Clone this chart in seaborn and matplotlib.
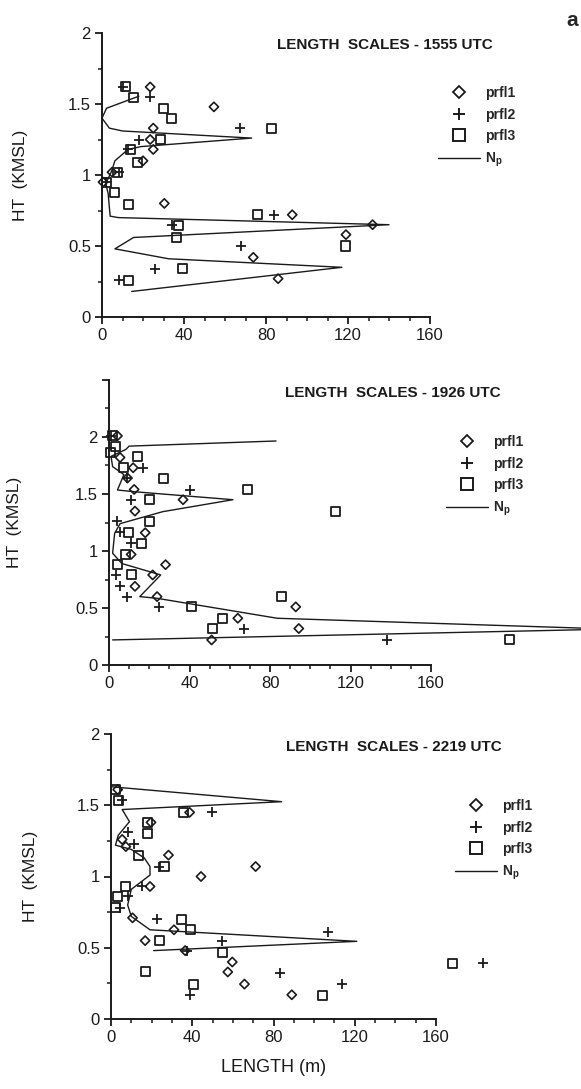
import matplotlib
matplotlib.use("Agg")
import matplotlib.pyplot as plt
import seaborn as sns
from matplotlib.lines import Line2D
from matplotlib.ticker import MultipleLocator

# ---------------- data ----------------
# Panel 1555 UTC
p1555_prfl1_len = [23.5, 54.6, 25, 23.5, 25, 20, 4.9, 0.5, 30.4, 92.8, 132, 119, 73.8, 85.9]
p1555_prfl1_ht = [1.62, 1.48, 1.33, 1.25, 1.18, 1.10, 1.02, 0.95, 0.80, 0.72, 0.65, 0.58, 0.42, 0.27]
p1555_prfl2_len = [10, 23.5, 67.5, 18, 12.7, 8.5, 1.8, 84, 34, 67.8, 25.9, 8.1]
p1555_prfl2_ht = [1.62, 1.55, 1.33, 1.25, 1.18, 1.02, 0.95, 0.72, 0.645, 0.50, 0.34, 0.26]
p1555_prfl3_len = [11.4, 15.4, 29.8, 33.8, 82.6, 28.4, 14, 17.5, 7.4, 2.2, 6.3, 12.8, 76, 37.4, 36.2, 119, 39.2, 12.7]
p1555_prfl3_ht = [1.62, 1.545, 1.47, 1.40, 1.33, 1.25, 1.18, 1.09, 1.02, 0.95, 0.875, 0.79, 0.72, 0.645, 0.56, 0.50, 0.34, 0.26]
p1555_np_len = [18, 2.2, 0, 3.6, 10, 73, 19, 12.7, 6.3, 4.5, 1.8, 3, 3.6, 4, 8, 140, 15.4, 6.3, 32.5, 117, 14.5]
p1555_np_ht = [1.555, 1.47, 1.40, 1.33, 1.31, 1.26, 1.20, 1.18, 1.10, 1.02, 0.94, 0.87, 0.77, 0.71, 0.70, 0.65, 0.56, 0.48, 0.41, 0.35, 0.18]

# Panel 1926 UTC
p1926_prfl1_len = [4.2, 5.5, 12, 9.2, 12.5, 36.8, 12.9, 18, 11, 28.1, 21.7, 12.9, 23.9, 92.8, 64, 94.3, 51]
p1926_prfl1_ht = [2.01, 1.82, 1.73, 1.64, 1.54, 1.45, 1.35, 1.16, 0.97, 0.88, 0.79, 0.69, 0.60, 0.51, 0.41, 0.32, 0.22]
p1926_prfl2_len = [1, 17, 9, 40, 10.7, 4.2, 5.5, 11, 3.7, 5.5, 8.8, 24.8, 67, 138]
p1926_prfl2_ht = [2.01, 1.73, 1.64, 1.535, 1.45, 1.26, 1.17, 1.07, 0.79, 0.69, 0.60, 0.51, 0.32, 0.22]
p1926_prfl3_len = [1.8, 3.1, 0.5, 14.2, 7, 27.2, 69, 20.2, 112.7, 19.9, 9.7, 16, 8.3, 4.2, 11.4, 85.8, 41, 56.6, 51.5, 199]
p1926_prfl3_ht = [2.01, 1.92, 1.86, 1.83, 1.73, 1.64, 1.54, 1.45, 1.345, 1.26, 1.16, 1.07, 0.97, 0.885, 0.79, 0.60, 0.51, 0.41, 0.32, 0.22]
p1926_np_len = [83, 10, 8.3, 1, 1.8, 7.4, 4.2, 12.5, 61.6, 26.7, 5.5, 2.8, 1.8, 6.4, 25.7, 15.3, 23.9, 83.6, 250, 1.8]
p1926_np_ht = [1.965, 1.92, 1.89, 1.83, 1.74, 1.67, 1.535, 1.52, 1.45, 1.345, 1.24, 1.155, 0.98, 0.89, 0.79, 0.60, 0.585, 0.41, 0.315, 0.22]

# Panel 2219 UTC
p2219_prfl1_len = [3.3, 38.7, 19.7, 5.5, 7.3, 28.3, 71.2, 44.3, 19.2, 10.6, 31, 16.8, 36.5, 59.7, 57.5, 65.7, 89]
p2219_prfl1_ht = [1.61, 1.45, 1.38, 1.26, 1.21, 1.15, 1.07, 1.00, 0.93, 0.71, 0.626, 0.55, 0.48, 0.40, 0.33, 0.245, 0.17]
p2219_prfl2_len = [5.5, 49.6, 8.2, 11.3, 23.7, 15.5, 8.2, 4.6, 22.8, 107, 54.4, 37.4, 183, 83, 113.5, 38.7]
p2219_prfl2_ht = [1.54, 1.45, 1.31, 1.23, 1.07, 0.93, 0.86, 0.78, 0.70, 0.61, 0.55, 0.48, 0.39, 0.32, 0.245, 0.17]
p2219_prfl3_len = [2.2, 3.6, 35.6, 17.9, 18.2, 13.7, 26.5, 7.3, 3.3, 2.2, 34.7, 39.2, 24.1, 54.7, 168, 16.8, 40.7, 104]
p2219_prfl3_ht = [1.61, 1.53, 1.45, 1.38, 1.30, 1.15, 1.07, 0.93, 0.86, 0.78, 0.70, 0.626, 0.55, 0.47, 0.39, 0.33, 0.245, 0.165]
p2219_np_len = [0, 84, 5.5, 9.1, 3.6, 2.2, 10, 16.4, 19.2, 19.2, 10, 8.2, 10, 19.2, 121, 21]
p2219_np_ht = [1.63, 1.525, 1.47, 1.385, 1.29, 1.22, 1.19, 1.13, 1.07, 1.01, 0.91, 0.80, 0.72, 0.626, 0.545, 0.48]

titles = ["LENGTH  SCALES - 1555 UTC", "LENGTH  SCALES - 1926 UTC", "LENGTH  SCALES - 2219 UTC"]
series_labels = ["prfl1", "prfl2", "prfl3", "N$_\\mathregular{p}$"]
x_ticks = [0, 40, 80, 120, 160]
x_ticklabels = ["0", "40", "80", "120", "160"]
y_ticks_2 = [0, 0.5, 1, 1.5, 2]
y_ticklabels_2 = ["0", "0.5", "1", "1.5", "2"]
y_ticks_25 = [0, 0.5, 1, 1.5, 2, 2.5]
y_ticklabels_25 = ["0", "0.5", "1", "1.5", "2", ""]
y_label = "HT  (KMSL)"
x_label = "LENGTH (m)"

# ---------------- styling ----------------
sns.set_theme(style="ticks")
plt.rcParams["font.family"] = ["Liberation Sans", "DejaVu Sans"]
plt.rcParams["mathtext.fontset"] = "custom"
plt.rcParams["mathtext.rm"] = "Liberation Sans"

W, H = 581, 1089
fig = plt.figure(figsize=(W / 100, H / 100), dpi=100)
fig.patch.set_facecolor("white")


def px_rect(x0, x1, ytop, ybot):
    return [x0 / W, 1 - ybot / H, (x1 - x0) / W, (ybot - ytop) / H]


panels = [
    dict(rect=px_rect(102, 430, 33, 317), ymax=2.0, yt=y_ticks_2, ytl=y_ticklabels_2,
         data=(p1555_prfl1_len, p1555_prfl1_ht, p1555_prfl2_len, p1555_prfl2_ht,
               p1555_prfl3_len, p1555_prfl3_ht, p1555_np_len, p1555_np_ht),
         title_xy=(277, 45), leg_xy=(438, 86), ylab_x=28),
    dict(rect=px_rect(109, 431, 380, 665), ymax=2.5, yt=y_ticks_25, ytl=y_ticklabels_25,
         data=(p1926_prfl1_len, p1926_prfl1_ht, p1926_prfl2_len, p1926_prfl2_ht,
               p1926_prfl3_len, p1926_prfl3_ht, p1926_np_len, p1926_np_ht),
         title_xy=(285, 393), leg_xy=(446, 435), ylab_x=22),
    dict(rect=px_rect(111, 436, 734, 1019), ymax=2.0, yt=y_ticks_2, ytl=y_ticklabels_2,
         data=(p2219_prfl1_len, p2219_prfl1_ht, p2219_prfl2_len, p2219_prfl2_ht,
               p2219_prfl3_len, p2219_prfl3_ht, p2219_np_len, p2219_np_ht),
         title_xy=(286, 747), leg_xy=(455, 799), ylab_x=38),
]

for i, pan in enumerate(panels):
    ax = fig.add_axes(pan["rect"])
    l1, h1, l2, h2, l3, h3, ln, hn = pan["data"]
    sns.lineplot(x=ln, y=hn, sort=False, estimator=None, color="k", lw=1.0, ax=ax)
    sns.scatterplot(x=l1, y=h1, marker="D", s=22, facecolor="none", edgecolor="k",
                    linewidth=1.2, ax=ax)
    sns.scatterplot(x=l2, y=h2, marker="+", s=60, color="k", linewidth=1.3, ax=ax)
    sns.scatterplot(x=l3, y=h3, marker="s", s=42, facecolor="none", edgecolor="k",
                    linewidth=1.3, ax=ax)
    for art in list(ax.lines) + list(ax.collections):
        art.set_clip_on(False)

    ax.set_xlim(0, 160)
    ax.set_ylim(0, pan["ymax"])
    ax.set_xticks(x_ticks)
    ax.set_xticklabels(x_ticklabels)
    ax.set_yticks(pan["yt"])
    ax.set_yticklabels(pan["ytl"])
    ax.xaxis.set_minor_locator(MultipleLocator(10))
    ax.yaxis.set_minor_locator(MultipleLocator(0.25))
    sns.despine(ax=ax)
    for sp in ("left", "bottom"):
        ax.spines[sp].set_linewidth(1.4)
        ax.spines[sp].set_color("k")
    ax.tick_params(axis="both", which="major", direction="out", length=5, width=1.3,
                   labelsize=12, colors="k", pad=3)
    ax.tick_params(axis="both", which="minor", direction="out", length=3, width=1.1, colors="k")
    ax.set_ylabel(y_label, fontsize=12.5, color="k")
    x0 = pan["rect"][0] * W
    wpx = pan["rect"][2] * W
    ax.yaxis.set_label_coords((pan["ylab_x"] - x0) / wpx, 0.5)
    if i == 2:
        ax.set_xlabel(x_label, fontsize=13, color="k", labelpad=10)
    else:
        ax.set_xlabel("")

    tx, ty = pan["title_xy"]
    fig.text(tx / W, 1 - ty / H, titles[i], fontsize=11, fontweight="bold",
             ha="left", va="center", color="k")

    handles = [
        Line2D([], [], ls="none", marker="D", ms=6, mfc="none", mec="k", mew=1.3),
        Line2D([], [], ls="none", marker="+", ms=9, mec="k", mew=1.4),
        Line2D([], [], ls="none", marker="s", ms=8, mfc="none", mec="k", mew=1.4),
        Line2D([], [], color="k", lw=1.0),
    ]
    lx, ly = pan["leg_xy"]
    ax.legend(handles, series_labels, loc="upper left",
              bbox_to_anchor=(lx / W, 1 - ly / H), bbox_transform=fig.transFigure,
              frameon=False, borderpad=0, borderaxespad=0, handlelength=3.0,
              handletextpad=0.4, labelspacing=0.55,
              prop=dict(family="Liberation Sans", size=10, weight="bold"))

fig.text(566 / W, 1 - 20 / H, "a", fontsize=15, fontweight="bold", ha="left", va="center")

fig.savefig("out.png", dpi=100, facecolor="white")
